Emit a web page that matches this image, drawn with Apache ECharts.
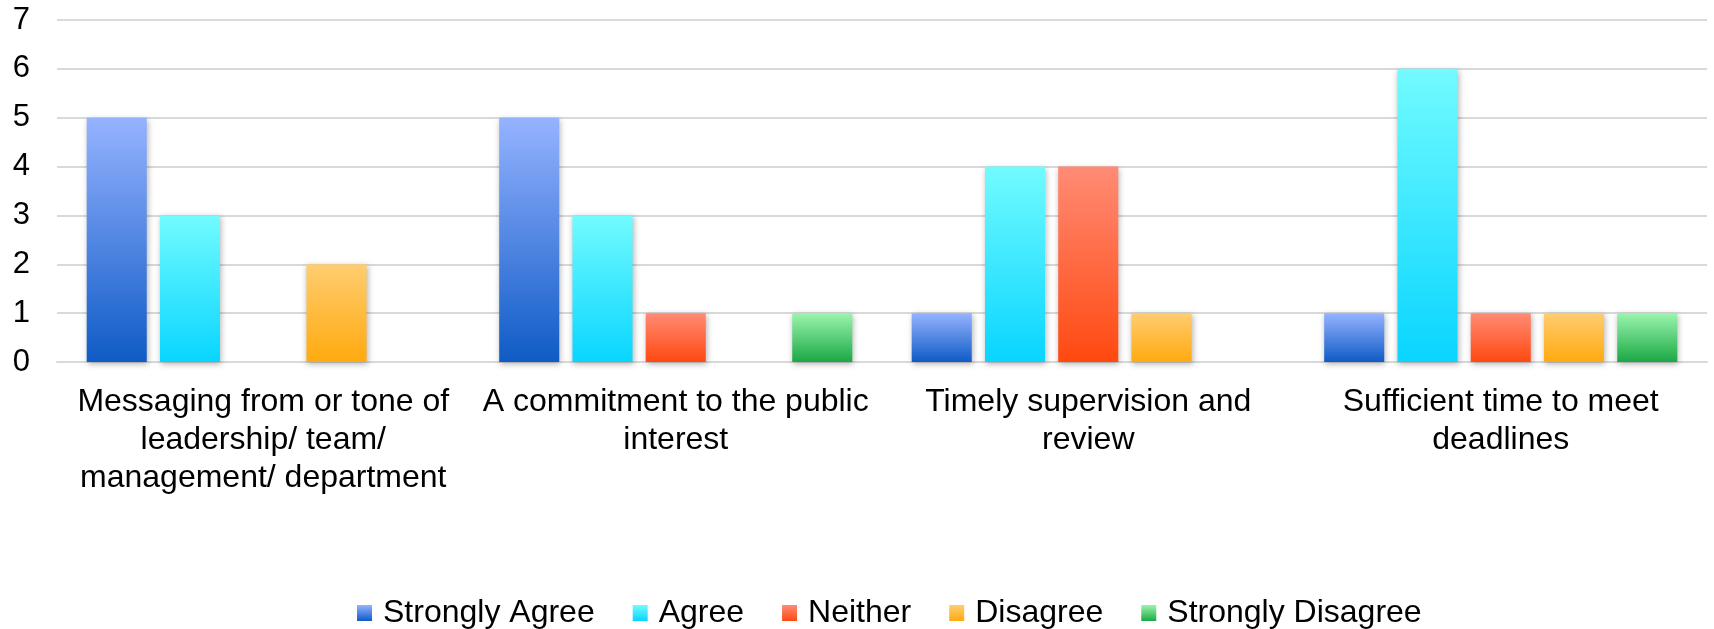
<!DOCTYPE html>
<html>
<head>
    <meta charset="utf-8">
    <title>Survey bars</title>
    <script src="https://cdn.jsdelivr.net/npm/echarts@6/dist/echarts.min.js"></script>
    <style>
      html, body { margin: 0; padding: 0; background: #fff; }
    </style>
</head>
<body>
    <div id="main" style="width: 1714px;height:629px;"></div>
    <script type="text/javascript">
    // 数据
    var categories = [
        'Messaging from or tone of\nleadership/ team/\nmanagement/ department',
        'A commitment to the public\ninterest',
        'Timely supervision and\nreview',
        'Sufficient time to meet\ndeadlines'
    ];
    var seriesNames = ['Strongly Agree', 'Agree', 'Neither', 'Disagree', 'Strongly Disagree'];
    var stronglyAgree = [5, 5, 1, 1];
    var agree = [3, 3, 4, 6];
    var neither = [0, 1, 4, 1];
    var disagree = [2, 0, 1, 1];
    var stronglyDisagree = [0, 1, 0, 1];
    var yTicks = [0, 1, 2, 3, 4, 5, 6, 7];

    // 渐变色 (上浅下深)
    var gradients = [
        ['#95b3ff', '#0f5bc6'],
        ['#72fbff', '#08d5ff'],
        ['#ff8b75', '#ff4910'],
        ['#ffcd70', '#ffaa0f'],
        ['#9bf5ad', '#1ba845']
    ];
    var values = [stronglyAgree, agree, neither, disagree, stronglyDisagree];

    function grad(c) {
        return new echarts.graphic.LinearGradient(0, 0, 0, 1, [
            { offset: 0, color: c[0] },
            { offset: 1, color: c[1] }
        ]);
    }

    var font = 'Liberation Sans, Arial, sans-serif';

    var series = seriesNames.map(function (name, i) {
        return {
            name: name,
            type: 'bar',
            barGap: '22%',
            barCategoryGap: '14.4%',
            itemStyle: {
                color: grad(gradients[i]),
                shadowColor: 'rgba(0,0,0,0.3)',
                shadowBlur: 6,
                shadowOffsetX: 1,
                shadowOffsetY: 2
            },
            data: values[i]
        };
    });

    var myChart = echarts.init(document.getElementById('main'));
    var option = {
        animation: false,
        grid: { left: 57, right: 7, top: 20, bottom: 267 },
        legend: {
            left: 352,
            top: 592,
            itemWidth: 15,
            itemHeight: 16,
            itemGap: 38,
            icon: 'rect',
            textStyle: { fontFamily: font, fontSize: 32, color: '#000', padding: [0, 0, 0, 6] },
            data: seriesNames
        },
        xAxis: {
            type: 'category',
            data: categories,
            axisTick: { show: false },
            axisLine: { lineStyle: { color: '#d9d9d9', width: 2 } },
            axisLabel: {
                interval: 0,
                margin: 21,
                fontFamily: font,
                fontSize: 32,
                lineHeight: 38,
                color: '#000'
            }
        },
        yAxis: {
            type: 'value',
            min: yTicks[0],
            max: yTicks[yTicks.length - 1],
            interval: 1,
            axisLine: { show: false },
            axisTick: { show: false },
            splitLine: { lineStyle: { color: '#d9d9d9', width: 2 } },
            axisLabel: {
                margin: 27,
                fontFamily: font,
                fontSize: 31,
                color: '#000'
            }
        },
        series: series
    };
    myChart.setOption(option);
    </script>
</body>
</html>
